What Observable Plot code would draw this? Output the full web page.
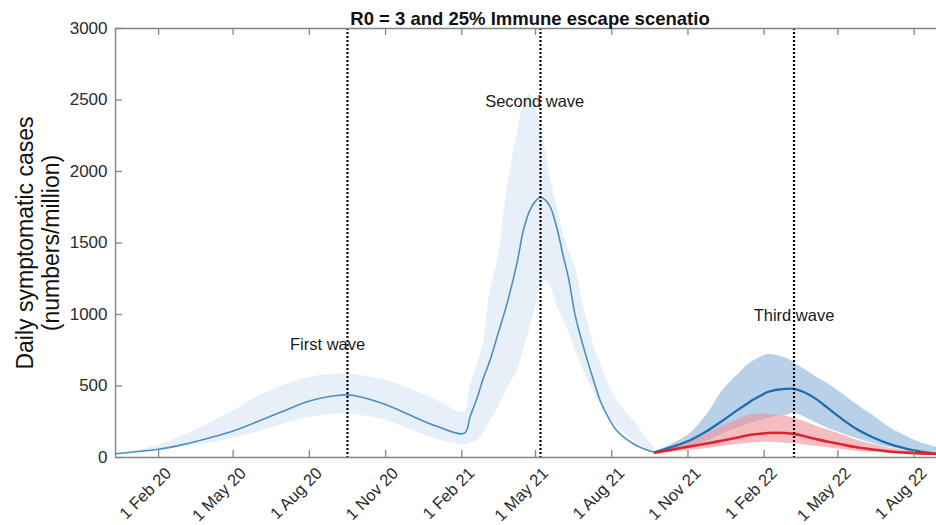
<!DOCTYPE html>
<html><head><meta charset="utf-8">
<script src="https://cdn.jsdelivr.net/npm/d3@7"></script>
<script src="https://cdn.jsdelivr.net/npm/@observablehq/plot@0.6"></script>
<style>body{margin:0;background:#fff;} #chart svg{display:block;}</style>
</head><body><div id="chart"></div>
<script>
// ---- data ----
const wave12Dates = ["2019-12-11","2020-01-01","2020-02-01","2020-03-01","2020-04-01","2020-05-01","2020-06-01","2020-07-01","2020-08-01","2020-09-01","2020-09-16","2020-10-01","2020-11-01","2020-12-01","2021-01-01","2021-02-04","2021-02-11","2021-02-20","2021-02-27","2021-03-07","2021-03-17","2021-03-28","2021-04-09","2021-04-16","2021-04-24","2021-05-02","2021-05-07","2021-05-13","2021-05-19","2021-05-27","2021-06-03","2021-06-10","2021-06-18","2021-06-28","2021-07-10","2021-07-18","2021-07-26","2021-08-07","2021-08-27","2021-09-10","2021-09-22"];
const wave12Mean  = [26,38,58,90,135,185,255,325,395,432,438,425,370,295,220,170,285,425,555,678,870,1085,1370,1580,1727,1800,1820,1800,1750,1600,1420,1250,990,770,540,399,300,189,96,58,37];
const wave12Upper = [30,45,84,150,235,325,430,505,560,583,585,575,540,480,400,320,490,650,795,1150,1400,1880,2270,2450,2540,2420,2320,2150,1950,1760,1580,1450,1330,1060,795,660,540,400,259,150,60];
const wave12Lower = [22,32,49,70,100,135,180,235,280,303,306,295,260,195,130,90,100,120,170,250,350,480,610,740,900,1080,1200,1238,1200,1060,970,880,750,608,460,380,305,220,119,65,30];

const wave3Dates = ["2021-09-22","2021-10-13","2021-11-03","2021-11-24","2021-12-13","2022-01-02","2022-01-14","2022-01-27","2022-02-05","2022-02-15","2022-02-26","2022-03-09","2022-03-22","2022-04-04","2022-04-19","2022-05-03","2022-05-22","2022-06-12","2022-07-02","2022-07-22","2022-08-08","2022-08-28"];
const blueMean  = [37,75,119,185,259,340,387,430,458,472,480,480,455,412,345,282,205,142,95,62,42,26];
const blueUpper = [40,95,165,300,469,590,655,700,720,715,698,665,615,565,515,460,378,295,212,150,105,72];
const blueLower = [35,52,72,115,165,210,235,258,273,288,292,310,282,245,205,175,135,100,70,55,45,37];
const redMean   = [33,55,77,98,119,142,157,166,171,173,171,165,148,130,110,95,73,56,42,34,29,26];
const redUpper  = [35,70,107,165,224,270,295,305,303,297,290,275,250,222,192,165,125,92,65,52,43,37];
const redLower  = [30,40,49,63,77,92,100,105,107,105,100,96,88,78,68,58,45,36,29,24,21,19];

const peakDates   = ["2020-09-16","2021-05-07","2022-03-09"];
const waveLabels  = ["First wave","Second wave","Third wave"];
const labelDates  = ["2020-08-23","2021-04-30","2022-03-09"];
const labelValues = [790, 2490, 993];

const yTicks = [0,500,1000,1500,2000,2500,3000];
const xTickDates  = ["2020-02-01","2020-05-01","2020-08-01","2020-11-01","2021-02-01","2021-05-01","2021-08-01","2021-11-01","2022-02-01","2022-05-01","2022-08-01"];
const xTickLabels = ["1 Feb 20","1 May 20","1 Aug 20","1 Nov 20","1 Feb 21","1 May 21","1 Aug 21","1 Nov 21","1 Feb 22","1 May 22","1 Aug 22"];

const titleText = "R0 = 3 and 25% Immune escape scenatio";
const yLabelText = "Daily symptomatic cases\n(numbers/million)";

// ---- build ----
const parse = d3.utcParse("%Y-%m-%d");
const W = 936, H = 525, mL = 115, mR = 0, mT = 28, mB = 68;
const plotW = W - mL - mR, plotH = H - mT - mB;
const xDomain = [parse("2019-12-11"), parse("2022-08-28")];

const t12 = wave12Dates.map((d, i) => ({date: parse(d), mean: wave12Mean[i], lo: wave12Lower[i], hi: wave12Upper[i]}));
const t3 = wave3Dates.map((d, i) => ({date: parse(d), bm: blueMean[i], bhi: blueUpper[i], blo: blueLower[i], rm: redMean[i], rhi: redUpper[i], rlo: redLower[i]}));
const peaks = peakDates.map(parse);
const xTicks = xTickDates.map(parse);
const labels = waveLabels.map((t, i) => ({text: t, date: parse(labelDates[i]), value: labelValues[i]}));
const axisColor = "#858585";
const curve = "catmull-rom";

const chart = Plot.plot({
  width: W, height: H,
  marginLeft: mL, marginRight: mR, marginTop: mT, marginBottom: mB,
  x: {type: "utc", domain: xDomain, axis: null},
  y: {domain: [0, 3000], axis: null},
  style: {fontFamily: "'Liberation Sans', Arial, Helvetica, sans-serif", background: "#fff", overflow: "visible"},
  marks: [
    Plot.areaY(t12, {x: "date", y1: "lo", y2: "hi", fill: "#e7eff8", curve}),
    Plot.areaY(t3, {x: "date", y1: "blo", y2: "bhi", fill: "#b8d1e8", curve}),
    Plot.areaY(t3, {x: "date", y1: "rlo", y2: "rhi", fill: "#ee8f97", fillOpacity: 0.6, curve}),
    Plot.line(t12, {x: "date", y: "mean", stroke: "#4f8fc0", strokeWidth: 1.6, curve}),
    Plot.line(t3, {x: "date", y: "bm", stroke: "#1f6cb0", strokeWidth: 2.3, curve}),
    Plot.line(t3, {x: "date", y: "rm", stroke: "#e2232c", strokeWidth: 2.6, curve}),
    Plot.ruleX(peaks, {x: d => d, stroke: "#000", strokeWidth: 2.2, strokeDasharray: "2,2"}),
    Plot.ruleY([0, 3000], {y: d => d, stroke: axisColor, strokeWidth: 1.4}),
    Plot.ruleX([xDomain[0]], {x: d => d, stroke: axisColor, strokeWidth: 1.4}),
    Plot.tickY(yTicks, {y: d => d, insetRight: plotW - 7, stroke: axisColor, strokeWidth: 1.3}),
    Plot.tickX(xTicks, {x: d => d, insetTop: plotH - 7, stroke: axisColor, strokeWidth: 1.3}),
    Plot.tickX(xTicks, {x: d => d, insetBottom: plotH - 7, stroke: axisColor, strokeWidth: 1.3}),
    Plot.text(yTicks, {y: d => d, frameAnchor: "left", text: d => String(d), textAnchor: "end", dx: -8, fontSize: 17, fill: "#2b2b2b"}),
    Plot.text(xTicks, {x: d => d, frameAnchor: "bottom", text: (d, i) => xTickLabels[i], rotate: -45, textAnchor: "end", lineAnchor: "middle", dx: 10, dy: 13, fontSize: 16.5, fill: "#2b2b2b"}),
    Plot.text(labels, {x: "date", y: "value", text: "text", textAnchor: "middle", lineAnchor: "middle", fontSize: 16.5, fill: "#1a1a1a"}),
    Plot.text([titleText], {frameAnchor: "top", text: d => d, dx: 4, dy: -4, textAnchor: "middle", lineAnchor: "bottom", fontWeight: "bold", fontSize: 18.5, fill: "#111"}),
    Plot.text([yLabelText], {frameAnchor: "left", text: d => d, rotate: -90, dx: -78, textAnchor: "middle", lineAnchor: "middle", lineHeight: 1.12, fontSize: 23, fill: "#111"})
  ]
});
document.getElementById("chart").appendChild(chart);
</script>
</body></html>
